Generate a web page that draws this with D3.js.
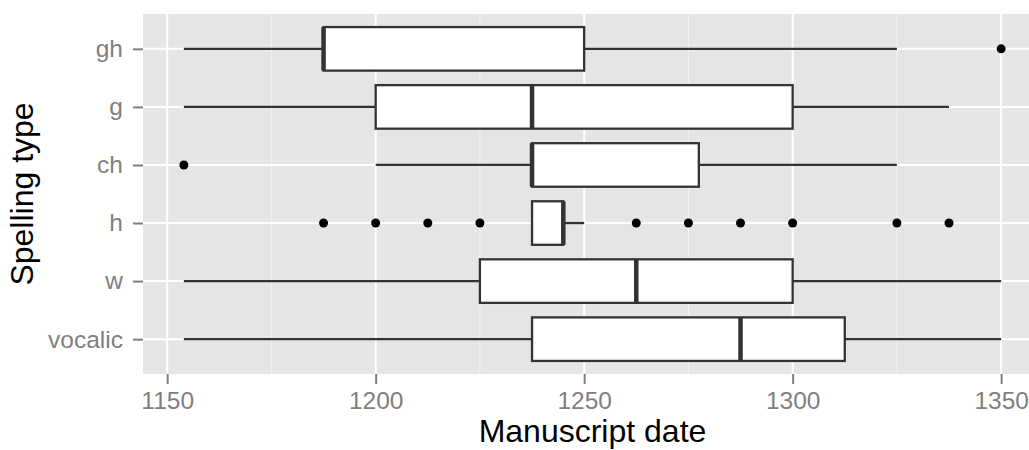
<!DOCTYPE html>
<html>
<head>
<meta charset="utf-8">
<script src="https://cdn.jsdelivr.net/npm/d3@7"></script>
<style>
  html, body { margin: 0; padding: 0; background: #fff; }
  svg { display: block; font-family: "Liberation Sans", Arial, sans-serif; }
</style>
</head>
<body>
<svg id="chart" width="1029" height="450"></svg>
<script>
// Spelling types, top to bottom
const categories = ["gh", "g", "ch", "h", "w", "vocalic"];
// Box-plot summaries per spelling type (manuscript dates)
const whiskerLow  = [1154,   1154,   1200,   1237.5, 1154,   1154];
const q1          = [1187.5, 1200,   1237.5, 1237.5, 1225,   1237.5];
const medians     = [1187.5, 1237.5, 1237.5, 1245,   1262.5, 1287.5];
const q3          = [1250,   1300,   1277.5, 1245,   1300,   1312.5];
const whiskerHigh = [1325,   1337.5, 1325,   1250,   1350,   1350];
// Outlying manuscripts: [spelling type, date]
const outliers = [
  ["gh", 1350],
  ["ch", 1154],
  ["h", 1187.5], ["h", 1200], ["h", 1212.5], ["h", 1225],
  ["h", 1262.5], ["h", 1275], ["h", 1287.5], ["h", 1300],
  ["h", 1325], ["h", 1337.5]
];
const xTicks = [1150, 1200, 1250, 1300, 1350];
const xMinor = [1175, 1225, 1275, 1325];

const svg = d3.select("#chart");
const panel = { left: 143, right: 1042, top: 14, bottom: 374 };

const x = d3.scaleLinear().domain([1144.2, 1359.8]).range([panel.left, panel.right]);
const y = d3.scalePoint().domain(categories).range([panel.top, panel.bottom]).padding(0.6);
const boxH = y.step() * 0.75;

// panel background
svg.append("rect")
  .attr("x", panel.left).attr("y", panel.top)
  .attr("width", panel.right - panel.left).attr("height", panel.bottom - panel.top)
  .attr("fill", "#e5e5e5");

// grid lines
const grid = svg.append("g");
grid.selectAll(".minor").data(xMinor).enter().append("line")
  .attr("x1", d => x(d)).attr("x2", d => x(d))
  .attr("y1", panel.top).attr("y2", panel.bottom)
  .attr("stroke", "#f2f2f2").attr("stroke-width", 1);
grid.selectAll(".majx").data(xTicks).enter().append("line")
  .attr("x1", d => x(d)).attr("x2", d => x(d))
  .attr("y1", panel.top).attr("y2", panel.bottom)
  .attr("stroke", "#ffffff").attr("stroke-width", 2);
grid.selectAll(".majy").data(categories).enter().append("line")
  .attr("x1", panel.left).attr("x2", panel.right)
  .attr("y1", d => y(d)).attr("y2", d => y(d))
  .attr("stroke", "#ffffff").attr("stroke-width", 2);

// box plots
const rows = categories.map((c, i) => ({
  cat: c, lo: whiskerLow[i], q1: q1[i], med: medians[i], q3: q3[i], hi: whiskerHigh[i]
}));
const boxes = svg.append("g").selectAll("g").data(rows).enter().append("g");
boxes.append("line")
  .attr("x1", d => x(d.lo)).attr("x2", d => x(d.q1))
  .attr("y1", d => y(d.cat)).attr("y2", d => y(d.cat))
  .attr("stroke", "#333").attr("stroke-width", 2.3);
boxes.append("line")
  .attr("x1", d => x(d.q3)).attr("x2", d => x(d.hi))
  .attr("y1", d => y(d.cat)).attr("y2", d => y(d.cat))
  .attr("stroke", "#333").attr("stroke-width", 2.3);
boxes.append("rect")
  .attr("x", d => x(d.q1)).attr("width", d => x(d.q3) - x(d.q1))
  .attr("y", d => y(d.cat) - boxH / 2).attr("height", boxH)
  .attr("fill", "#fff").attr("stroke", "#333").attr("stroke-width", 2.3);
boxes.append("line")
  .attr("x1", d => x(d.med)).attr("x2", d => x(d.med))
  .attr("y1", d => y(d.cat) - boxH / 2).attr("y2", d => y(d.cat) + boxH / 2)
  .attr("stroke", "#333").attr("stroke-width", 4.5);

// outliers
svg.append("g").selectAll("circle").data(outliers).enter().append("circle")
  .attr("cx", d => x(d[1])).attr("cy", d => y(d[0]))
  .attr("r", 4.5).attr("fill", "#000");

// axes
const xAxis = svg.append("g")
  .attr("transform", `translate(0,${panel.bottom})`)
  .call(d3.axisBottom(x).tickValues(xTicks).tickFormat(d3.format("d")).tickSize(10).tickPadding(8));
const yAxis = svg.append("g")
  .attr("transform", `translate(${panel.left},0)`)
  .call(d3.axisLeft(y).tickSize(10).tickPadding(10));
[xAxis, yAxis].forEach(a => {
  a.select(".domain").remove();
  a.selectAll(".tick line").attr("stroke", "#7f7f7f").attr("stroke-width", 2);
  a.selectAll(".tick text").attr("fill", "#7f7f7f").attr("font-size", 24.5)
    .attr("font-family", "Liberation Sans, Arial, sans-serif");
});

// axis titles
svg.append("text")
  .attr("x", (panel.left + panel.right) / 2).attr("y", 442)
  .attr("text-anchor", "middle").attr("font-size", 32).attr("fill", "#000")
  .text("Manuscript date");
svg.append("text")
  .attr("transform", `translate(33,${(panel.top + panel.bottom) / 2}) rotate(-90)`)
  .attr("text-anchor", "middle").attr("font-size", 32).attr("fill", "#000")
  .text("Spelling type");
</script>
</body>
</html>
